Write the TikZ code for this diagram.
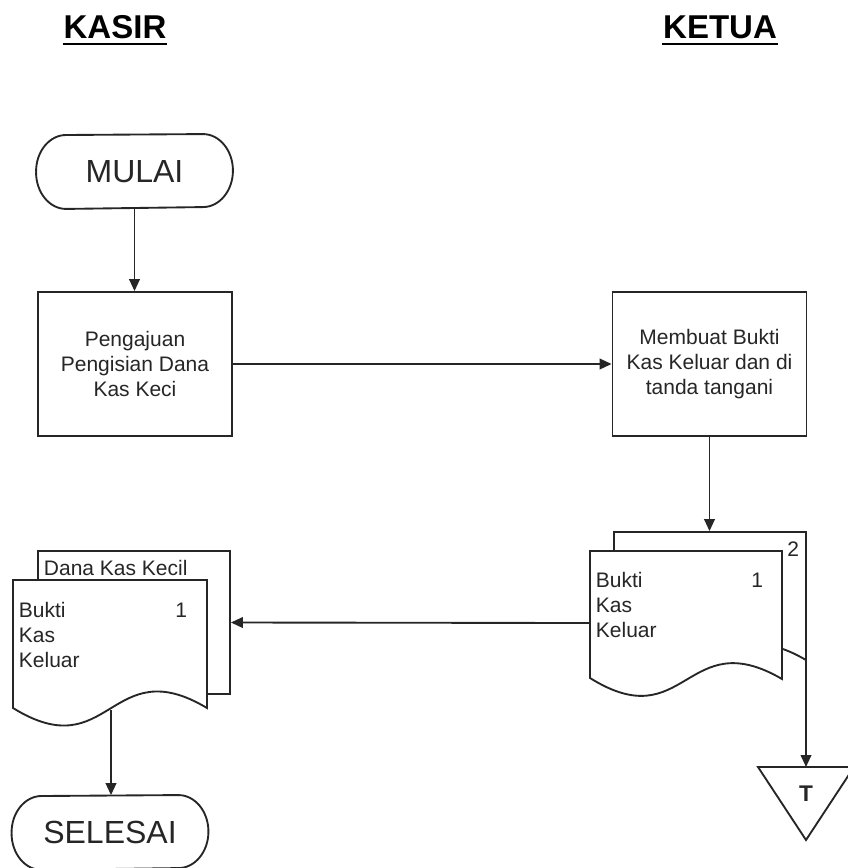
\documentclass[tikz,border=0pt]{standalone}
\usepackage{fontspec}
\setmainfont{Liberation Sans}
\usetikzlibrary{arrows.meta}
\begin{document}
\begin{tikzpicture}[x=0.75pt,y=-0.75pt,
  line width=1.4pt,
  ink/.style={draw=black!85},
  txt/.style={font=\fontsize{15.75}{19}\selectfont, text=black!85, inner sep=0pt},
  head/.style={font=\fontsize{24.75}{28}\bfseries, inner sep=0pt},
  term/.style={minimum width=146.25pt, minimum height=54.75pt, inner sep=0pt,
    font=\fontsize{24}{28}\selectfont, text=black!85},
  procbox/.style={draw=black!85, fill=white, minimum width=145.5pt, minimum height=108pt,
    align=center, inner sep=0pt, font=\fontsize{15.75}{19}\selectfont, text=black!85},
  docnode/.style={minimum width=144pt, minimum height=108pt, inner sep=0pt},
  sheet/.style={draw=black!85, fill=white},
  flow/.style={draw=black!85, -{Triangle[length=9pt,width=8pt]}},
]
\useasboundingbox (0,0) rectangle (848,868);

% swimlane headings
\node[head, anchor=base] (kasir) at (115,38) {KASIR};
\node[head, anchor=base] (ketua) at (720,38) {KETUA};
\draw[line width=2.2pt] ([yshift=-4.5pt]kasir.base west) -- ([yshift=-4.5pt]kasir.base east);
\draw[line width=2.2pt] ([yshift=-4.5pt]ketua.base west) -- ([yshift=-4.5pt]ketua.base east);

% terminals: straight top and bottom, elliptic ends
\node[term] (mulai) at (134.5,171.5) {MULAI};
\draw[ink, line cap=round] (mulai.west)
  arc[start angle=180,end angle=90,x radius=22.5pt,y radius=27.375pt]
  -- ([xshift=-22.5pt]mulai.north east)
  arc[start angle=90,end angle=-90,x radius=22.5pt,y radius=27.375pt]
  -- ([xshift=22.5pt]mulai.south west)
  arc[start angle=270,end angle=180,x radius=22.5pt,y radius=27.375pt];

\node[term] (selesai) at (110,832.5) {SELESAI};
\draw[ink, line cap=round] (selesai.west)
  arc[start angle=180,end angle=90,x radius=22.5pt,y radius=27.375pt]
  -- ([xshift=-22.5pt]selesai.north east)
  arc[start angle=90,end angle=-90,x radius=22.5pt,y radius=27.375pt]
  -- ([xshift=22.5pt]selesai.south west)
  arc[start angle=270,end angle=180,x radius=22.5pt,y radius=27.375pt];

% processes
\node[procbox] (ajuan) at (135,364) {Pengajuan\\Pengisian Dana\\Kas Keci};
\node[procbox] (bukti) at (709.5,364) {Membuat Bukti\\Kas Keluar dan di\\tanda tangani};

% document stack of the chairman (two copies)
\node[docnode] (rback) at (710,604) {};
\draw[sheet] (614,659) -- (614,532) -- (806,532) -- (806,660)
  .. controls (710,604) and (710,719) .. (614,659) -- cycle;
\node[docnode] (rfront) at (686,623) {};
\draw[sheet] (590,678) -- (590,551) -- (782,551) -- (782,679)
  .. controls (686,623) and (686,738) .. (590,678) -- cycle;
\node[txt, anchor=base east] (rnum2) at (800,556) {2};
\node[txt, anchor=base east] (rnum1) at (764,587) {1};
\node[txt, anchor=base west] (rl1) at (595,587) {Bukti};
\node[txt, anchor=base west] (rl2) at (595,612) {Kas};
\node[txt, anchor=base west] (rl3) at (595,637) {Keluar};

% document stack of the cashier: the sheet behind shows only its top and right edges
\node[docnode] (lback) at (134,622.5) {};
\draw[ink] (38,580) -- (38,551) -- (230,551) -- (230,694) -- (207,694);
\node[txt, anchor=base west] (dana) at (43,575) {Dana Kas Kecil};
\node[docnode] (lfront) at (110,652.5) {};
\draw[sheet] (13,708) -- (13,580) -- (207,580) -- (207,708)
  .. controls (110,650) and (110,768) .. (13,708) -- cycle;
\node[txt, anchor=base east] (lnum1) at (188,617) {1};
\node[txt, anchor=base west] (ll1) at (18,617) {Bukti};
\node[txt, anchor=base west] (ll2) at (18,642) {Kas};
\node[txt, anchor=base west] (ll3) at (18,667) {Keluar};

% offline file
\node[inner sep=0pt, font=\fontsize{17}{19}\bfseries, text=black!85] (arsip) at (806,794) {T};
\coordinate (arsip-top) at (806,767);
\draw[ink] (758,767) -- (854,767) -- (806,840) -- cycle;

% connection points on the wavy edges
\coordinate (rback-foot) at (806,660);
\coordinate (lfront-foot) at (111,710);

% flow
\draw[flow] (mulai.south) -- (mulai.south |- ajuan.north);
\draw[flow] (ajuan.east) -- (bukti.west);
\draw[flow] (bukti.south) -- (bukti.south |- rback.north);
\draw[flow] (rfront.west) -- (lback.east);
\draw[flow] (lfront-foot) -- (lfront-foot |- selesai.north);
\draw[flow] (rback-foot) -- (arsip-top);
\end{tikzpicture}
\end{document}
